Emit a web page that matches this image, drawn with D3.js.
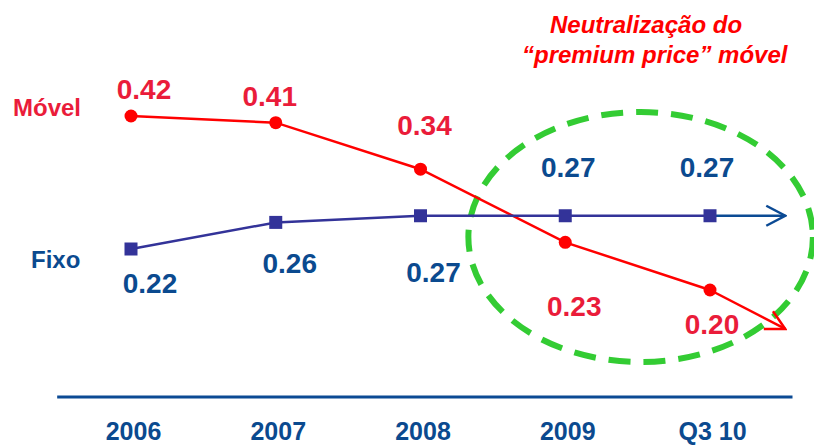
<!DOCTYPE html>
<html>
<head>
<meta charset="utf-8">
<script src="https://cdn.jsdelivr.net/npm/d3@7"></script>
<style>
  body { margin: 0; background: #fff; }
  svg { display: block; font-family: "Liberation Sans", Arial, sans-serif; }
</style>
</head>
<body>
<div id="chart"></div>
<script>
// data
const categories = ["2006", "2007", "2008", "2009", "Q3 10"];
const movel = [0.42, 0.41, 0.34, 0.23, 0.2];
const fixo = [0.22, 0.26, 0.27, 0.27, 0.27];
// where the trend arrows point after the last value
const movelArrowTo = 0.181;
const fixoArrowTo = 0.27;

// label offsets (dx, baseline dy) from each point
const movelLabelOffset = [[13, -17], [-6, -17], [4, -34], [9, 74], [2, 44]];
const fixoLabelOffset = [[19, 44], [14, 51], [13, 66], [3, -39], [-3, -39]];

const w = 814;
const h = 445;
const red = "#ff0000";
const redText = "#ea1c3a";
const blue = "#333399";
const blueText = "#0b4a8f";

const svg = d3
  .select("#chart")
  .append("svg")
  .attr("width", w)
  .attr("height", h);

// scales
const xScale = d3.scalePoint().domain(categories).range([131, 710]);
const step = xScale.step();

// the picture is not drawn to one scale below 0.22, so use a piecewise one
const yScale = d3.scaleLinear().domain([0.2, 0.22, 0.42]).range([290, 249, 116]);

// arrowheads
const defs = svg.append("defs");
function arrow(id, color) {
  defs
    .append("marker")
    .attr("id", id)
    .attr("markerUnits", "userSpaceOnUse")
    .attr("viewBox", "-22 -13 24 26")
    .attr("refX", 0)
    .attr("refY", 0)
    .attr("markerWidth", 24)
    .attr("markerHeight", 26)
    .attr("orient", "auto")
    .append("path")
    .attr("d", "M-19,-10L0,0L-19,10")
    .attr("fill", "none")
    .attr("stroke", color)
    .attr("stroke-width", 2.5);
}
arrow("arrowRed", red);
arrow("arrowBlue", "#0b4a94");

// green dashed ellipse round the last two years
const lastX = xScale(categories[categories.length - 1]);
svg
  .append("ellipse")
  .attr("cx", (xScale("2009") + lastX) / 2 + 3)
  .attr("cy", yScale(0.238))
  .attr("rx", step * 1.19)
  .attr("ry", 125)
  .attr("fill", "none")
  .attr("stroke", "#33cc33")
  .attr("stroke-width", 6)
  .attr("stroke-dasharray", "22 13");

// x axis
const axisY = 397;
svg
  .append("line")
  .attr("x1", xScale(categories[0]) - step * 0.51)
  .attr("x2", lastX + step * 0.57)
  .attr("y1", axisY)
  .attr("y2", axisY)
  .attr("stroke", "#0b4a94")
  .attr("stroke-width", 3);

const xAxis = d3.axisBottom(xScale).tickSize(0);
const gx = svg
  .append("g")
  .attr("id", "x-axis")
  .attr("transform", "translate(0," + axisY + ")")
  .call(xAxis);
gx.select(".domain").remove();
gx.selectAll("text")
  .attr("y", 43)
  .attr("dy", 0)
  .attr("dx", 2)
  .attr("fill", blueText)
  .style("font-size", "25px")
  .style("font-weight", "bold")
  .style("font-family", "'Liberation Sans Narrow', 'Liberation Sans', Arial, sans-serif");

// draw one series with its arrow, markers and labels
function series(values, arrowTo, color, arrowId, labelColor, offsets, marker) {
  const line = d3
    .line()
    .x((d, i) => xScale(categories[i]))
    .y((d) => yScale(d));

  svg
    .append("path")
    .datum(values)
    .attr("d", line)
    .attr("fill", "none")
    .attr("stroke", color)
    .attr("stroke-width", 2.5);

  const lastV = values[values.length - 1];
  svg
    .append("line")
    .attr("x1", lastX)
    .attr("y1", yScale(lastV))
    .attr("x2", lastX + step * 0.52)
    .attr("y2", yScale(arrowTo))
    .attr("stroke", arrowId === "arrowBlue" ? "#0b4a94" : color)
    .attr("stroke-width", 2.5)
    .attr("marker-end", "url(#" + arrowId + ")");

  if (marker === "circle") {
    svg
      .selectAll(null)
      .data(values)
      .enter()
      .append("circle")
      .attr("cx", (d, i) => xScale(categories[i]))
      .attr("cy", (d) => yScale(d))
      .attr("r", 6.5)
      .attr("fill", color);
  } else {
    svg
      .selectAll(null)
      .data(values)
      .enter()
      .append("rect")
      .attr("x", (d, i) => xScale(categories[i]) - 6.5)
      .attr("y", (d) => yScale(d) - 6.5)
      .attr("width", 13)
      .attr("height", 13)
      .attr("fill", color);
  }

  svg
    .selectAll(null)
    .data(values)
    .enter()
    .append("text")
    .attr("x", (d, i) => xScale(categories[i]) + offsets[i][0])
    .attr("y", (d, i) => yScale(d) + offsets[i][1])
    .attr("text-anchor", "middle")
    .attr("fill", labelColor)
    .style("font-size", "28px")
    .style("font-weight", "bold")
    .text((d) => d.toFixed(2));
}

series(movel, movelArrowTo, red, "arrowRed", redText, movelLabelOffset, "circle");
series(fixo, fixoArrowTo, blue, "arrowBlue", blueText, fixoLabelOffset, "square");

// series names
svg
  .append("text")
  .attr("x", 13)
  .attr("y", 116)
  .attr("fill", redText)
  .style("font-size", "24px")
  .style("font-weight", "bold")
  .text("Móvel");

svg
  .append("text")
  .attr("x", 31)
  .attr("y", 268)
  .attr("fill", blueText)
  .style("font-size", "24px")
  .style("font-weight", "bold")
  .text("Fixo");

// annotation title
const title = svg
  .append("text")
  .attr("fill", red)
  .style("font-size", "24px")
  .style("font-weight", "bold")
  .style("font-style", "italic");
title.append("tspan").attr("x", 550).attr("y", 33).text("Neutralização do");
title.append("tspan").attr("x", 522).attr("y", 63).text("“premium price” móvel");
</script>
</body>
</html>
